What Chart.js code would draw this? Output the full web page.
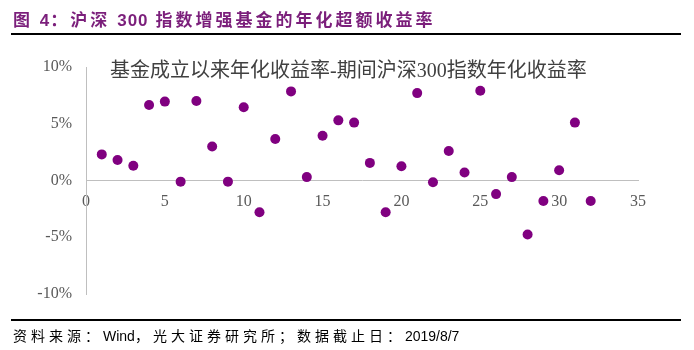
<!DOCTYPE html>
<html>
<head>
<meta charset="utf-8">
<script src="https://cdn.jsdelivr.net/npm/chart.js@4.4.1/dist/chart.umd.min.js"></script>
<style>
  html, body { margin: 0; padding: 0; background: #fff; }
  #wrap { position: relative; width: 694px; height: 350px; overflow: hidden; }
  #chart { position: absolute; left: 0; top: 0; }
  .title {
    position: absolute; left: 13px; top: 8px; white-space: nowrap;
    font: bold 17px 'Noto Sans CJK SC', sans-serif; line-height: 22px;
    color: #7b1f7b; letter-spacing: 3px;
  }
  .title .lat { font-family: 'Liberation Sans', Arial, sans-serif; letter-spacing: 1px; }
  .rule { position: absolute; left: 11px; width: 670px; background: #000; }
  .source {
    position: absolute; left: 13px; top: 325px; white-space: nowrap;
    font: 14px 'Noto Sans CJK SC', sans-serif; line-height: 20px;
    color: #000; letter-spacing: 4px;
  }
  .source .lat { font-family: 'Liberation Sans', Arial, sans-serif; letter-spacing: 0; }
</style>
</head>
<body>
<div id="wrap">
  <canvas id="chart" width="694" height="350"></canvas>
  <div class="title">图 <span class="lat">4</span>：沪深 <span class="lat">300</span> 指数增强基金的年化超额收益率</div>
  <div class="rule" style="top:33px;height:2px;"></div>
  <div class="rule" style="top:319px;height:1.5px;"></div>
  <div class="source">资料来源：<span class="lat">Wind</span>，光大证券研究所；数据截止日：<span class="lat">2019/8/7</span></div>
</div>
<script>
// fund index (1..32) and annualised excess return, %
const fundIndex = [1, 2, 3, 4, 5, 6, 7, 8, 9, 10, 11, 12, 13, 14, 15, 16,
  17, 18, 19, 20, 21, 22, 23, 24, 25, 26, 27, 28, 29, 30, 31, 32];
const excessReturn = [2.3, 1.8, 1.3, 6.65, 6.95, -0.1, 7.0, 3.0, -0.1, 6.45, -2.8, 3.65, 7.85, 0.3, 3.95, 5.3,
  5.1, 1.55, -2.8, 1.25, 7.7, -0.15, 2.6, 0.7, 7.9, -1.2, 0.3, -4.75, -1.8, 0.9, 5.1, -1.8];
const xTicks = [0, 5, 10, 15, 20, 25, 30, 35];
const yTicks = [-10, -5, 0, 5, 10];
const seriesTitle = '基金成立以来年化收益率-期间沪深300指数年化收益率';

const tickFont = { family: "'Liberation Serif', 'Times New Roman', serif", size: 16 };
const axisGray = '#bfbfbf';

const innerTitle = {
  id: 'innerTitle',
  afterDraw(chart) {
    const { ctx, chartArea } = chart;
    ctx.save();
    ctx.font = "20px 'Liberation Serif', 'Noto Sans CJK SC', serif";
    ctx.fillStyle = '#404040';
    ctx.textBaseline = 'middle';
    ctx.fillText(seriesTitle, chartArea.left + 24, chartArea.top + 5);
    ctx.restore();
  },
};

const ctx = document.getElementById('chart').getContext('2d');
new Chart(ctx, {
  type: 'scatter',
  data: {
    datasets: [{
      label: seriesTitle,
      data: fundIndex.map((x, i) => ({ x, y: excessReturn[i] })),
      backgroundColor: '#800080',
      borderWidth: 0,
      pointRadius: 5,
      pointHoverRadius: 5,
    }],
  },
  options: {
    responsive: false,
    animation: false,
    devicePixelRatio: 1,
    layout: { padding: { top: 67, right: 56, bottom: 56, left: 0 } },
    plugins: {
      legend: { display: false },
      tooltip: { enabled: false },
      title: { display: false },
    },
    scales: {
      x: {
        type: 'linear',
        position: { y: 0 },
        min: xTicks[0],
        max: xTicks[xTicks.length - 1],
        afterBuildTicks: (s) => { s.ticks = xTicks.map((v) => ({ value: v })); },
        grid: { display: false, drawTicks: false },
        border: { display: true, color: axisGray, width: 1 },
        ticks: { font: tickFont, color: '#595959', padding: 12, maxRotation: 0 },
      },
      y: {
        type: 'linear',
        min: yTicks[0],
        max: yTicks[yTicks.length - 1],
        afterBuildTicks: (s) => { s.ticks = yTicks.map((v) => ({ value: v })); },
        afterFit: (s) => { s.width = 86; },
        grid: { display: false, drawTicks: false },
        border: { display: true, color: axisGray, width: 1 },
        ticks: { font: tickFont, color: '#595959', padding: 14, callback: (v) => v + '%' },
      },
    },
  },
  plugins: [innerTitle],
});
</script>
</body>
</html>
